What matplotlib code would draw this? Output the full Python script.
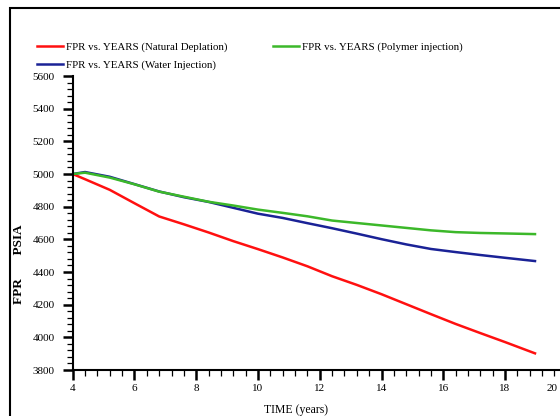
import numpy as np
import matplotlib
matplotlib.use("Agg")
import matplotlib.pyplot as plt
from matplotlib.patches import Rectangle
from matplotlib.ticker import MultipleLocator
from matplotlib.transforms import ScaledTranslation

plt.rcParams['font.family'] = ['Liberation Serif', 'DejaVu Serif']

# data
years = [4.0, 4.4, 5.2, 6.0, 6.8, 7.6, 8.4, 9.2, 10.0, 10.8, 11.6, 12.4,
         13.2, 14.0, 14.8, 15.6, 16.4, 17.2, 18.0, 18.97]
natural = [5000, 4968, 4903, 4821, 4740, 4692, 4642, 4589, 4540, 4489, 4435, 4374,
           4321, 4264, 4203, 4142, 4082, 4026, 3971, 3902]
water = [5000, 5012, 4983, 4938, 4893, 4858, 4829, 4793, 4757, 4731, 4699, 4668,
         4635, 4601, 4569, 4541, 4522, 4504, 4487, 4467]
polymer = [5000, 5008, 4978, 4937, 4892, 4861, 4830, 4807, 4782, 4762, 4741, 4715,
           4700, 4685, 4670, 4655, 4644, 4639, 4636, 4632]

fig = plt.figure(figsize=(5.6, 4.16), dpi=100)
ax = fig.add_axes([72.7 / 560, 1 - 370 / 416, 494.1 / 560, 294 / 416])

ax.plot(years, natural, color='#ff1010', lw=1.8, label='FPR vs. YEARS (Natural Deplation)')
ax.plot(years, water, color='#1a2296', lw=1.8, label='FPR vs. YEARS (Water Injection)')
ax.plot(years, polymer, color='#3cb82a', lw=1.8, label='FPR vs. YEARS (Polymer injection)')

ax.set_xlim(4, 20)
ax.set_ylim(3800, 5600)
ax.xaxis.set_major_locator(MultipleLocator(2))
ax.xaxis.set_minor_locator(MultipleLocator(0.4))
ax.yaxis.set_major_locator(MultipleLocator(200))
ax.yaxis.set_minor_locator(MultipleLocator(40))

for s in ['top', 'right']:
    ax.spines[s].set_visible(False)
for s in ['left', 'bottom']:
    ax.spines[s].set_linewidth(1.5)

ax.tick_params(axis='both', which='major', direction='out', length=7, width=1.8,
               labelsize=8)
ax.tick_params(axis='both', which='minor', direction='out', length=4, width=0.9)
ax.tick_params(axis='y', which='major', pad=6)
ax.tick_params(axis='x', which='major', pad=3)

ax.set_xlabel('TIME (years)', fontsize=8.5)
ax.xaxis.set_label_coords(0.452, -0.115)
ax.set_ylabel('FPR       PSIA', fontsize=9.5, fontweight='bold')
ax.yaxis.set_label_coords(-0.096, 0.36)

# the "20" label is pulled inside the visible area
locs = list(ax.xaxis.get_majorticklocs())
ticks = ax.xaxis.get_major_ticks(len(locs))
i20 = int(np.argmin(np.abs(np.array(locs) - 20)))
lab = ticks[i20].label1
lab.set_transform(lab.get_transform() + ScaledTranslation(-15 / 100, 0, fig.dpi_scale_trans))

ax.legend(loc='upper left', bbox_to_anchor=(37 / 560, 1 - 42 / 416),
          bbox_transform=fig.transFigure, ncol=2, frameon=False, fontsize=7.8,
          handlelength=2.4, handletextpad=0.3, columnspacing=4.2,
          labelspacing=0.8, borderpad=0, borderaxespad=0)

fig.patches.append(Rectangle((10 / 560, -0.1), 1.0, 1.1 - 8 / 416, transform=fig.transFigure,
                             fill=False, lw=1.5, edgecolor='black'))

fig.savefig('out.png', dpi=100)
